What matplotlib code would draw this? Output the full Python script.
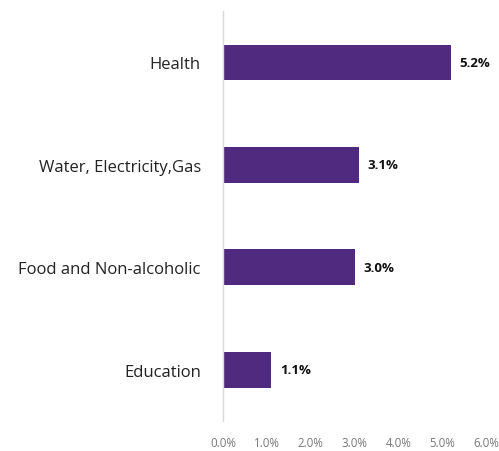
import matplotlib
matplotlib.use('Agg')
import matplotlib.pyplot as plt

categories = ["Education", "Food and Non-alcoholic", "Water, Electricity,Gas", "Health"]
values = [1.1, 3.0, 3.1, 5.2]
xticks = [0, 1, 2, 3, 4, 5, 6]

plt.rcParams['font.family'] = ['Open Sans', 'DejaVu Sans']

fig = plt.figure(figsize=(4.99, 4.52), dpi=100)
ax = fig.add_axes([0.447, 0.066, 0.527, 0.907])

ypos = list(range(len(categories)))
ax.barh(ypos, values, height=0.35, color="#4F2A7F")

for y, v in zip(ypos, values):
    ax.text(v + 0.2, y, f"{v:.1f}%", va="center", ha="left",
            fontsize=9.5, fontweight="bold", color="#111111")

ax.set_xlim(0, 6)
ax.set_ylim(-0.5, 3.5)
ax.set_xticks(xticks)
ax.set_xticklabels([f"{t:.1f}%" for t in xticks], fontsize=8.3, color="#777777")
ax.set_yticks(ypos)
ax.set_yticklabels(categories, fontsize=12, color="#222222")
ax.tick_params(axis="x", length=0, pad=11)
ax.tick_params(axis="y", length=0, pad=16)

for s in ["top", "right", "bottom"]:
    ax.spines[s].set_visible(False)
ax.spines["left"].set_color("#d9d9d9")
ax.spines["left"].set_linewidth(1.0)

fig.savefig("out.png", dpi=100)
